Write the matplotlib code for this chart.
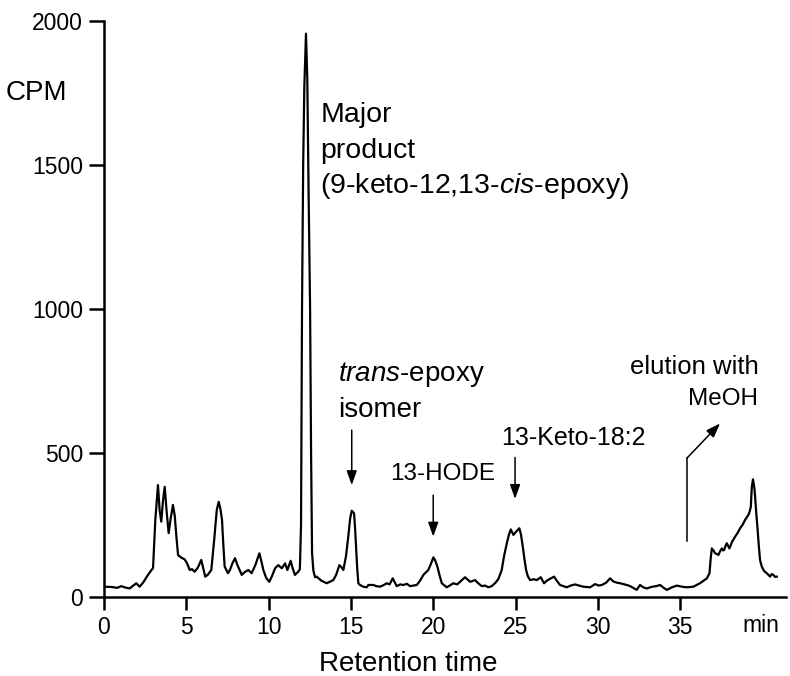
import numpy as np
import matplotlib
matplotlib.use("Agg")
import matplotlib.pyplot as plt

plt.rcParams['font.family'] = ['Liberation Sans', 'DejaVu Sans']
plt.rcParams['mathtext.fontset'] = 'custom'
plt.rcParams['mathtext.rm'] = 'Liberation Sans'
plt.rcParams['mathtext.it'] = 'Liberation Sans:italic'

# retention time (min) and counts
time = [0.0, 0.04, 0.47, 0.8, 1.05, 1.3, 1.56, 1.96, 2.17, 2.4, 2.67, 2.98,
        3.12, 3.28, 3.38, 3.48, 3.58, 3.69, 3.8, 3.93, 4.05, 4.19, 4.3, 4.39,
        4.5, 4.7, 4.9, 5.05, 5.21, 5.35, 5.51, 5.7, 5.91, 6.02, 6.15, 6.3,
        6.52, 6.7, 6.85, 6.97, 7.07, 7.17, 7.25, 7.33, 7.53, 7.65, 7.8, 7.96,
        8.1, 8.37, 8.55, 8.77, 8.97, 9.2, 9.44, 9.55, 9.68, 9.85, 10.04, 10.2,
        10.39, 10.59, 10.8, 11.0, 11.14, 11.34, 11.45, 11.6, 11.8, 11.9, 11.97,
        12.03, 12.1, 12.17, 12.27, 12.35, 12.43, 12.52, 12.58, 12.64, 12.72,
        12.82, 12.92, 13.2, 13.53, 13.93, 14.1, 14.3, 14.45, 14.54, 14.7,
        14.84, 14.95, 15.05, 15.19, 15.25, 15.31, 15.38, 15.45, 15.55, 15.75,
        15.96, 16.06, 16.36, 16.55, 16.77, 17.0, 17.17, 17.35, 17.54, 17.78,
        18.0, 18.18, 18.4, 18.59, 18.8, 19.0, 19.2, 19.4, 19.7, 19.85, 20.01,
        20.12, 20.25, 20.4, 20.52, 20.82, 21.0, 21.22, 21.45, 21.63, 21.93,
        22.1, 22.24, 22.54, 22.75, 22.95, 23.15, 23.35, 23.55, 23.75, 23.95,
        24.16, 24.3, 24.47, 24.6, 24.71, 24.87, 25.03, 25.23, 25.33, 25.44,
        25.54, 25.64, 25.75, 25.88, 26.1, 26.29, 26.53, 26.73, 26.9, 27.05,
        27.34, 27.5, 27.7, 27.9, 28.11, 28.35, 28.61, 28.85, 29.12, 29.53,
        29.83, 30.05, 30.24, 30.5, 30.74, 30.95, 31.15, 31.35, 31.55, 31.76,
        31.96, 32.15, 32.36, 32.56, 32.75, 32.97, 33.3, 33.55, 33.78, 34.0,
        34.19, 34.5, 34.8, 35.1, 35.4, 35.8, 36.0, 36.2, 36.42, 36.62, 36.78,
        36.85, 36.92, 37.02, 37.12, 37.22, 37.32, 37.43, 37.53, 37.6, 37.67,
        37.75, 37.83, 37.92, 37.99, 38.15, 38.34, 38.5, 38.64, 38.8, 38.94,
        39.05, 39.14, 39.22, 39.29, 39.35, 39.42, 39.5, 39.55, 39.62, 39.69,
        39.77, 39.85, 39.95, 40.06, 40.16, 40.26, 40.36, 40.46, 40.56, 40.66,
        40.76, 40.87]
cpm = [32, 34, 33, 30, 36, 31, 28, 46, 34, 50, 75, 99,
       266, 387, 300, 260, 330, 381, 300, 220, 270, 318, 280, 214,
       144, 135, 129, 115, 92, 95, 86, 100, 127, 100, 69, 75,
       92, 200, 300, 329, 305, 266, 180, 104, 81, 92, 115, 133,
       110, 75, 85, 92, 81, 110, 150, 125, 92, 65, 51, 70,
       98, 109, 98, 115, 92, 124, 100, 75, 86, 95, 250,
       1000, 1500, 1770, 1955, 1800, 1400, 1000, 500, 150, 90,
       67, 69, 55, 46, 57, 75, 109, 100, 92, 140,
       208, 270, 298, 289, 240, 173, 100, 46, 40, 34,
       32, 40, 40, 36, 34, 40, 46, 42, 63, 36,
       42, 40, 44, 36, 38, 40, 55, 75, 92, 112, 136,
       125, 104, 70, 46, 32, 38, 46, 42, 51, 67,
       58, 51, 57, 45, 36, 38, 32, 36, 46, 60,
       92, 140, 185, 215, 233, 214, 225, 237, 215, 173,
       130, 92, 70, 57, 60, 57, 67, 46, 55, 60,
       69, 55, 40, 36, 32, 38, 42, 38, 34, 32,
       43, 38, 40, 48, 63, 52, 48, 46, 43, 40,
       36, 30, 23, 40, 32, 28, 34, 36, 40, 30,
       23, 32, 38, 34, 32, 34, 40, 46, 55, 63, 81,
       130, 167, 160, 150, 148, 144, 158, 167, 160, 162,
       175, 185, 175, 167, 190, 208, 222, 237, 250, 266,
       275, 283, 295, 312, 380, 407, 380, 347, 290, 242,
       180, 127, 105, 92, 85, 81, 75, 69, 78, 75,
       68, 69]

xticks = [0, 5, 10, 15, 20, 25, 30, 35]
yticks = [0, 500, 1000, 1500, 2000]

fig = plt.figure(figsize=(7.9, 6.76), dpi=100)
ax = fig.add_axes([0.1316, 0.1176, 0.8634, 0.8518])

ax.plot(time, cpm, color='black', lw=1.6)

ax.set_xlim(0, 41.43)
ax.set_ylim(0, 2000)
ax.set_xticks(xticks)
ax.set_yticks(yticks)
ax.spines['top'].set_visible(False)
ax.spines['right'].set_visible(False)
for s in ['left', 'bottom']:
    ax.spines[s].set_linewidth(1.8)
ax.tick_params(axis='both', direction='out', width=1.8, labelsize=16.5)
ax.tick_params(axis='y', length=10.5, pad=4.5)
ax.tick_params(axis='x', length=9.5, pad=4.5)

# axis titles
ax.text(-5.95, 1725, 'CPM', fontsize=20, ha='left', va='baseline', clip_on=False)
ax.text(38.76, -123, 'min', fontsize=16.5, ha='left', va='baseline', clip_on=False)
ax.text(18.5, -260, 'Retention time', fontsize=20, ha='center', va='baseline', clip_on=False)

# peak labels
ax.text(13.15, 1649, 'Major', fontsize=20.5, ha='left', va='baseline')
ax.text(13.15, 1523, 'product', fontsize=20.5, ha='left', va='baseline')
ax.text(13.15, 1400, r'(9-keto-12,13-$\mathit{cis}$-epoxy)', fontsize=20.5, ha='left', va='baseline')
ax.text(14.2, 749, r'$\mathit{trans}$-epoxy', fontsize=20, ha='left', va='baseline')
ax.text(14.2, 623, 'isomer', fontsize=20, ha='left', va='baseline')
ax.text(20.56, 405, '13-HODE', fontsize=17.5, ha='center', va='baseline')
ax.text(24.1, 526, '13-Keto-18:2', fontsize=18, ha='left', va='baseline')
ax.text(39.8, 772, 'elution with', fontsize=18.5, ha='right', va='baseline')
ax.text(39.7, 665, 'MeOH', fontsize=17.5, ha='right', va='baseline')

arrow = dict(arrowstyle='-|>,head_length=0.86,head_width=0.31', color='black',
             lw=1.1, mutation_scale=10, shrinkA=0, shrinkB=0)
ax.annotate('', xy=(15.05, 387), xytext=(15.05, 578), arrowprops=arrow)
ax.annotate('', xy=(20.0, 208), xytext=(20.0, 352), arrowprops=arrow)
ax.annotate('', xy=(24.97, 339), xytext=(24.97, 483), arrowprops=arrow)
ax.plot([35.4, 35.4], [194, 481], color='black', lw=1.1)
ax.annotate('', xy=(37.42, 601), xytext=(35.4, 480), arrowprops=arrow)

plt.savefig('out.png', dpi=100)
